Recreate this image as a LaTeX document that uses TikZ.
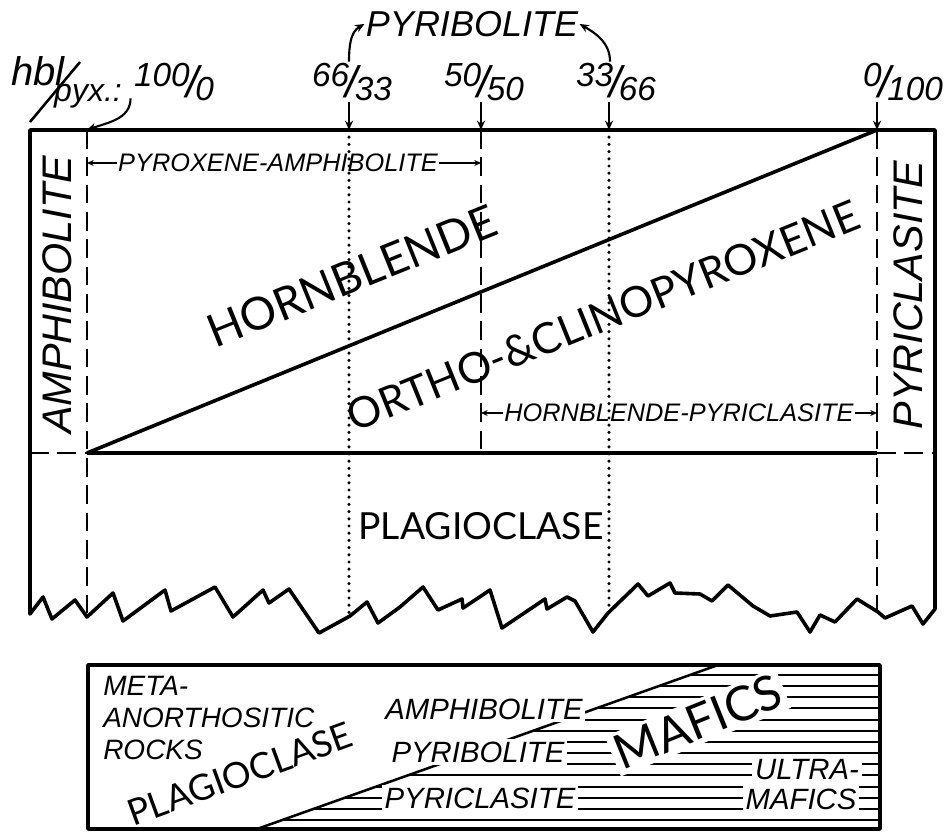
\documentclass[tikz,border=0pt]{standalone}
\usepackage{fontspec}
\setmainfont{Liberation Sans}
\newfontfamily\blocky{Lato}
\usetikzlibrary{arrows.meta,positioning,calc}

\newcommand{\rto}[2]{\raisebox{0.32em}{#1}\kern-0.1em{\fontsize{33}{33}\selectfont/}\kern-0.1em\raisebox{-0.1em}{#2}}

\begin{document}
\begin{tikzpicture}[x=0.75pt, y=-0.75pt,
  box/.style={line width=2.7pt, line join=round},
  dashln/.style={line width=2.2pt, dash pattern=on 14pt off 6.5pt},
  dotln/.style={line width=2.6pt, line cap=round, dash pattern=on 0pt off 5.4pt},
  ar/.style={-{Stealth[length=7pt,width=6pt]}, line width=1.6pt},
  ars/.style={-{Stealth[length=5pt,width=4.5pt]}, line width=1.3pt},
  tag/.style={font=\itshape\fontsize{25}{25}\selectfont, inner sep=1pt},
  lab/.style={font=\itshape\fontsize{19}{19}\selectfont, inner sep=1pt},
  side/.style={font=\itshape\fontsize{31}{31}\selectfont, inner sep=0pt, rotate=90},
  big/.style={font=\blocky\fontsize{34}{34}\selectfont, inner sep=0pt},
  small/.style={font=\itshape\fontsize{22}{22}\selectfont, inner sep=2pt, fill=white},
  hatch/.style={line width=1.5pt}
]
\useasboundingbox (0,0) rectangle (948,834);

% upper block
\coordinate (tA) at (87,130);
\coordinate (tB) at (349,130);
\coordinate (tC) at (481,130);
\coordinate (tD) at (609,130);
\coordinate (tE) at (877,130);
\coordinate (hA) at (87,453);
\coordinate (hC) at (481,453);
\coordinate (hE) at (877,453);

\draw[dashln] (tA) -- (87,617);
\draw[dashln] (tC) -- (hC);
\draw[dashln] (tE) -- (877,612);
\draw[dotln] (tB) -- (349,616);
\draw[dotln] (tD) -- (609,612);
\draw[dashln] (30,453) -- (hA);
\draw[dashln] (hE) -- (935,453);
\draw[box] (hA) -- (hE);
\draw[box] (hA) -- (tE);

\draw[box] (30,130) -- (30,614) -- (43,597) -- (52,619) -- (75,600) -- (87,617)
  -- (113,593) -- (123,621) -- (165,590) -- (171,611) -- (215,587) -- (233,617)
  -- (263,590) -- (269,603) -- (289,589) -- (319,633) -- (350,616) -- (367,602)
  -- (378,623) -- (400,607) -- (423,587) -- (438,610) -- (462,599) -- (463,608)
  -- (490,590) -- (502,628) -- (545,599) -- (547,609) -- (567,597) -- (575,601)
  -- (593,632) -- (608,613) -- (638,584) -- (648,596) -- (670,583) -- (675,593)
  -- (700,594) -- (712,601) -- (728,585) -- (753,606) -- (770,616) -- (797,612)
  -- (810,632) -- (820,615) -- (835,622) -- (857,599) -- (878,612) -- (885,618)
  -- (912,606) -- (923,624) -- (935,609) -- (935,130) -- cycle;

\node[tag, font=\itshape\fontsize{30}{30}\selectfont] (hbl) at (38,71) {hbl};
\coordinate (slA) at (30,122);
\coordinate (slB) at (80,62);
\draw[line width=1.9pt] (slA) -- (slB);
\node[tag, font=\itshape\fontsize{24}{24}\selectfont] (pyx) at (88,96) {pyx.:};
\node[tag] (r100) at (174,82) {\rto{100}{0}};
\node[tag] (r66) at (352,82) {\rto{66}{33}};
\node[tag] (r50) at (484,82) {\rto{50}{50}};
\node[tag] (r33) at (616,82) {\rto{33}{66}};
\node[tag] (r0) at (903,82) {\rto{0}{100}};
\node[tag, font=\itshape\fontsize{27}{27}\selectfont] (pyrib) at (472,24) {PYRIBOLITE};

\draw[ar] ($(r100.south west)+(-2,-4)$) to[out=-90,in=20] (tA);
\draw[ar] (r66.south -| tB) -- (tB);
\draw[ar] (r50.south -| tC) -- (tC);
\draw[ar] (r33.south -| tD) -- (tD);
\draw[ar] (r0.south -| tE) -- (tE);
\draw[ar] (r66.north -| tB) to[out=90,in=210] (pyrib.west);
\draw[ar] ($(r33.north)+(-6,0)$) to[out=90,in=-30] (pyrib.east);

\node[lab] (pxa) at (278,163) {PYROXENE-AMPHIBOLITE};
\draw[ars] (pxa.west) -- (pxa.west -| tA);
\draw[ars] (pxa.east) -- (pxa.east -| tC);
\node[lab] (hbp) at (679,413) {HORNBLENDE-PYRICLASITE};
\draw[ars] (hbp.west) -- (hbp.west -| tC);
\draw[ars] (hbp.east) -- (hbp.east -| tE);

\node[side] (amph) at (57,295) {AMPHIBOLITE};
\node[side] (pyrc) at (908,295) {PYRICLASITE};
\node[big, rotate=22] (hbl2) at (352,276) {HORNBLENDE};
\node[big, rotate=22, font=\blocky\fontsize{32}{32}\selectfont] (opx) at (603,316) {ORTHO-\&CLINOPYROXENE};
\node[big, font=\blocky\fontsize{28}{28}\selectfont] (plag) at (481,526) {PLAGIOCLASE};

% lower block
\begin{scope}
  \clip (257,829) -- (718,665) -- (880,665) -- (880,829) -- cycle;
  \foreach \k in {0,...,13}
    \draw[hatch] (250,{675+11.15*\k}) -- (880,{675+11.15*\k});
\end{scope}
\draw[line width=1.9pt] (257,829) -- (718,665);
\node[small] (amph2) at (484,709) {AMPHIBOLITE};
\node[small] (pyrb2) at (478,752) {PYRIBOLITE};
\node[small] (pyrc2) at (480,798) {PYRICLASITE};
\node[small] (ultra) at (807,770) {ULTRA-};
\node[small] (maf2) at (801,799) {MAFICS};
\node[big, rotate=22, fill=white, inner sep=3pt, font=\blocky\fontsize{36}{36}\selectfont] (mafics) at (698,722) {MAFICS};
\node[big, rotate=20, font=\blocky\fontsize{27}{27}\selectfont] (plag2) at (240,774) {PLAGIOCLASE};
\node[font=\itshape\fontsize{21}{24}\selectfont, align=left, anchor=north west, inner sep=0pt] (meta) at (103,676) {META-\\ANORTHOSITIC\\ROCKS};
\draw[box] (88,665) rectangle (880,829);
\end{tikzpicture}
\end{document}
